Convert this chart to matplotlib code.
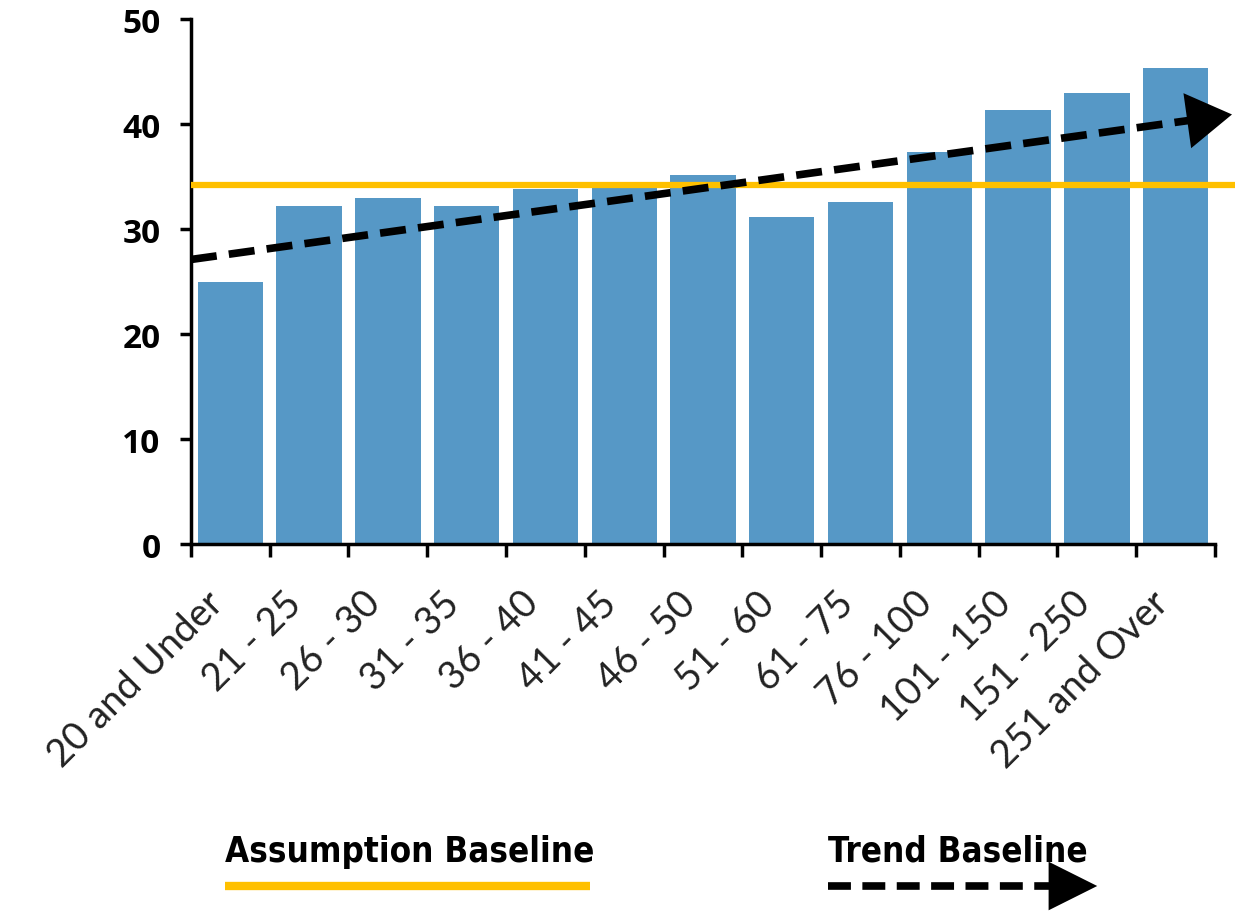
import numpy as np
import matplotlib
matplotlib.use('Agg')
import matplotlib.pyplot as plt
from matplotlib.transforms import ScaledTranslation

# categories (class size bands) and bar values
categories = ['20 and Under', '21 - 25', '26 - 30', '31 - 35', '36 - 40', '41 - 45',
              '46 - 50', '51 - 60', '61 - 75', '76 - 100', '101 - 150', '151 - 250',
              '251 and Over']
values = [25.0, 32.2, 33.0, 32.2, 33.8, 34.4, 35.1, 31.1, 32.6, 37.3, 41.3, 43.0, 45.3]

assumption_baseline = 34.2
trend_start = 27.1   # value at left edge of axis
trend_end = 40.95    # value at arrow tip
yticks = [0, 10, 20, 30, 40, 50]

bar_color = '#5698c6'
gold = '#ffc000'

fig = plt.figure(figsize=(12.48, 9.12), dpi=100)
ax = fig.add_axes([0.153, 0.4024, 0.8206, 0.5756])

x = np.arange(len(categories))
ax.bar(x, values, width=0.83, color=bar_color, zorder=2)

x0, x1 = -0.5, len(categories) - 0.5
x_tip = x1 + 0.25

# assumption baseline (runs a bit past the axis end)
ax.plot([x0, x_tip], [assumption_baseline] * 2, color=gold, lw=4.5,
        solid_capstyle='butt', clip_on=False, zorder=3)

# trend baseline: dashed line + arrow head
slope = (trend_end - trend_start) / (x_tip - x0)
x_base = x_tip - 0.42
ax.plot([x0, x_base], [trend_start, trend_start + slope * (x_base - x0)],
        color='black', lw=5.5, linestyle=(0, (3.4, 1.6)), dash_capstyle='butt',
        clip_on=False, zorder=4)
ax.annotate('', xy=(x_tip, trend_end),
            xytext=(x_base - 0.05, trend_start + slope * (x_base - 0.05 - x0)),
            arrowprops=dict(arrowstyle='-|>,head_length=1.3,head_width=0.8',
                            color='black', lw=0, mutation_scale=25),
            annotation_clip=False, zorder=5)

ax.set_xlim(x0, x1)
ax.set_ylim(0, 50)
ax.set_yticks(yticks)
ax.set_yticklabels([str(v) for v in yticks], fontsize=24, fontweight='bold',
                   family=['Open Sans', 'DejaVu Sans'])
ax.set_xticks(x)
ax.set_xticklabels(categories, rotation=45, ha='right', fontsize=27.5,
                   family=['Lato', 'DejaVu Sans'], color='#222222')
shift = ScaledTranslation(-26 / 100, 0, fig.dpi_scale_trans)
for lab in ax.get_xticklabels():
    lab.set_transform(lab.get_transform() + shift)
ax.set_xticks(np.arange(x0, x1 + 0.01, 1.0), minor=True)
ax.tick_params(axis='x', which='major', length=0, pad=29)
ax.tick_params(axis='x', which='minor', length=9, width=2.5, direction='out')
ax.tick_params(axis='y', length=8, width=2.5, direction='out', pad=14)

for s in ['top', 'right']:
    ax.spines[s].set_visible(False)
for s in ['left', 'bottom']:
    ax.spines[s].set_linewidth(2.5)
    ax.spines[s].set_color('black')

# legend drawn below the plot
legend_font = ['DejaVu Sans']
fig.text(225 / 1248, 1 - 862 / 912, 'Assumption Baseline', fontsize=25,
         fontweight='bold', fontstretch='condensed', family=legend_font,
         ha='left', va='baseline')
fig.text(828 / 1248, 1 - 862 / 912, 'Trend Baseline', fontsize=25,
         fontweight='bold', fontstretch='condensed', family=legend_font,
         ha='left', va='baseline')

ly = 1 - 887 / 912
fig.add_artist(plt.Line2D([225 / 1248, 590 / 1248], [ly, ly], color=gold, lw=6,
                          solid_capstyle='butt', transform=fig.transFigure))
fig.add_artist(plt.Line2D([828 / 1248, 1062 / 1248], [ly, ly], color='black', lw=5.5,
                          linestyle=(0, (3.0, 1.5)), dash_capstyle='butt',
                          transform=fig.transFigure))
ax.annotate('', xy=(1100 / 1248, ly), xycoords='figure fraction',
            xytext=(1058 / 1248, ly), textcoords='figure fraction',
            arrowprops=dict(arrowstyle='-|>,head_length=1.4,head_width=0.7',
                            color='black', lw=0, mutation_scale=25),
            annotation_clip=False)

fig.savefig('out.png', dpi=100, facecolor='white')
